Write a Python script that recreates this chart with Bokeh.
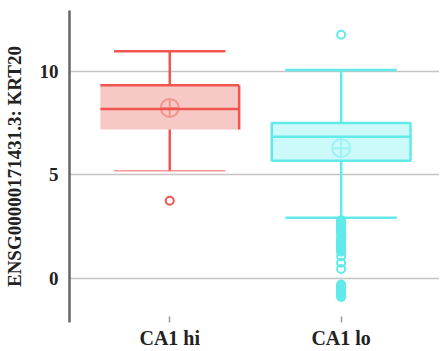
from bokeh.plotting import figure
from bokeh.models import Range1d, FixedTicker
from bokeh.embed import file_html
from bokeh.resources import INLINE

categories = ["CA1 hi", "CA1 lo"]
line_colors = ["#F0564E", "#62EAEA"]
fill_colors = ["#F6C8C6", "#CCFAFA"]
q1 = [7.18, 5.67]
median = [8.17, 6.83]
q3 = [9.31, 7.49]
lower = [5.19, 2.92]
upper = [10.96, 10.05]
means = [8.22, 6.28]
outliers_hi = [3.74]
outliers_lo = [11.75,
               2.8, 2.75, 2.7, 2.65, 2.6, 2.55, 2.5, 2.45, 2.4, 2.35, 2.3, 2.25, 2.2, 2.15,
               2.02,
               1.88, 1.83, 1.78, 1.73, 1.68, 1.63, 1.58, 1.53, 1.48, 1.43, 1.38, 1.33, 1.28,
               1.05, 0.75, 0.45,
               -0.3, -0.35, -0.4, -0.45, -0.5, -0.55, -0.6, -0.65, -0.7, -0.75, -0.8, -0.85, -0.9]
y_ticks = [0, 5, 10]

xs = list(range(len(categories)))
bw = 0.81
cw = 0.65
FONT = "Liberation Serif"

p = figure(width=439, height=351, output_backend="svg", toolbar_location=None,
           x_range=Range1d(-0.585, 1.574), y_range=Range1d(-2.13, 12.92),
           min_border_left=59, min_border_right=0, min_border_top=10, min_border_bottom=28)
p.outline_line_color = None
p.background_fill_color = "white"
p.border_fill_color = "white"

# boxes
p.quad(left=[x - bw / 2 for x in xs], right=[x + bw / 2 for x in xs], bottom=q1, top=q3,
       fill_color=fill_colors, line_color=None)
# box outlines: red has top + right only; cyan full
i = 0
p.segment(x0=[xs[i] - bw / 2, xs[i] + bw / 2], y0=[q3[i], q3[i]],
          x1=[xs[i] + bw / 2, xs[i] + bw / 2], y1=[q3[i], q1[i]],
          line_color=line_colors[i], line_width=2.5)
i = 1
p.quad(left=[xs[i] - bw / 2], right=[xs[i] + bw / 2], bottom=[q1[i]], top=[q3[i]],
       fill_color=None, line_color=line_colors[i], line_width=2.5)
# medians
p.segment(x0=[x - bw / 2 for x in xs], x1=[x + bw / 2 for x in xs], y0=median, y1=median,
          line_color=line_colors, line_width=2.5)
# whiskers
p.segment(x0=xs, x1=xs, y0=q3, y1=upper, line_color=line_colors, line_width=2.5)
p.segment(x0=xs, x1=xs, y0=q1, y1=lower, line_color=line_colors, line_width=2.5)
# caps
p.segment(x0=[x - cw / 2 for x in xs], x1=[x + cw / 2 for x in xs], y0=upper, y1=upper,
          line_color=line_colors, line_width=2.5)
p.segment(x0=[x - cw / 2 for x in xs], x1=[x + cw / 2 for x in xs], y0=lower, y1=lower,
          line_color=line_colors, line_width=[1.5, 2.5], line_alpha=[0.6, 1.0])
# means
p.scatter(x=xs, y=means, marker="circle_cross", size=18, fill_color=None,
          line_color=line_colors, line_width=2, line_alpha=0.45)
# outliers
p.scatter(x=[xs[0]] * len(outliers_hi), y=outliers_hi, marker="circle", size=8,
          fill_color=None, line_color=line_colors[0], line_width=2)
p.scatter(x=[xs[1]] * len(outliers_lo), y=outliers_lo, marker="circle", size=8,
          fill_color=None, line_color=line_colors[1], line_width=2)

# x axis
xa = p.xaxis[0]
xa.ticker = FixedTicker(ticks=xs)
xa.major_label_overrides = {x: c for x, c in zip(xs, categories)}
xa.axis_line_color = None
xa.minor_tick_line_color = None
xa.major_tick_in = 6
xa.major_tick_out = 0
xa.major_tick_line_color = "#999999"
xa.major_tick_line_width = 1.5
xa.major_label_standoff = 4
xa.major_label_text_font = FONT
xa.major_label_text_font_style = "bold"
xa.major_label_text_font_size = "20px"
xa.major_label_text_color = "#222222"

ya = p.yaxis[0]
ya.ticker = FixedTicker(ticks=y_ticks)
ya.axis_label = "ENSG00000171431.3: KRT20"
ya.axis_label_text_font = FONT
ya.axis_label_text_font_style = "bold"
ya.axis_label_text_font_size = "19px"
ya.axis_label_text_color = "#222222"
ya.axis_label_standoff = 12
ya.axis_line_color = "#666666"
ya.axis_line_width = 2.5
ya.major_tick_in = 0
ya.major_tick_out = 0
ya.minor_tick_line_color = None
ya.major_label_standoff = 11
ya.major_label_text_font = FONT
ya.major_label_text_font_style = "bold"
ya.major_label_text_font_size = "19px"
ya.major_label_text_color = "#222222"

p.xgrid.grid_line_color = None
p.ygrid.ticker = FixedTicker(ticks=y_ticks)
p.ygrid.grid_line_color = "#c4c4c4"
p.ygrid.grid_line_width = 1.6
p.ygrid.level = "underlay"

open("out.html", "w").write(file_html(p, INLINE))
